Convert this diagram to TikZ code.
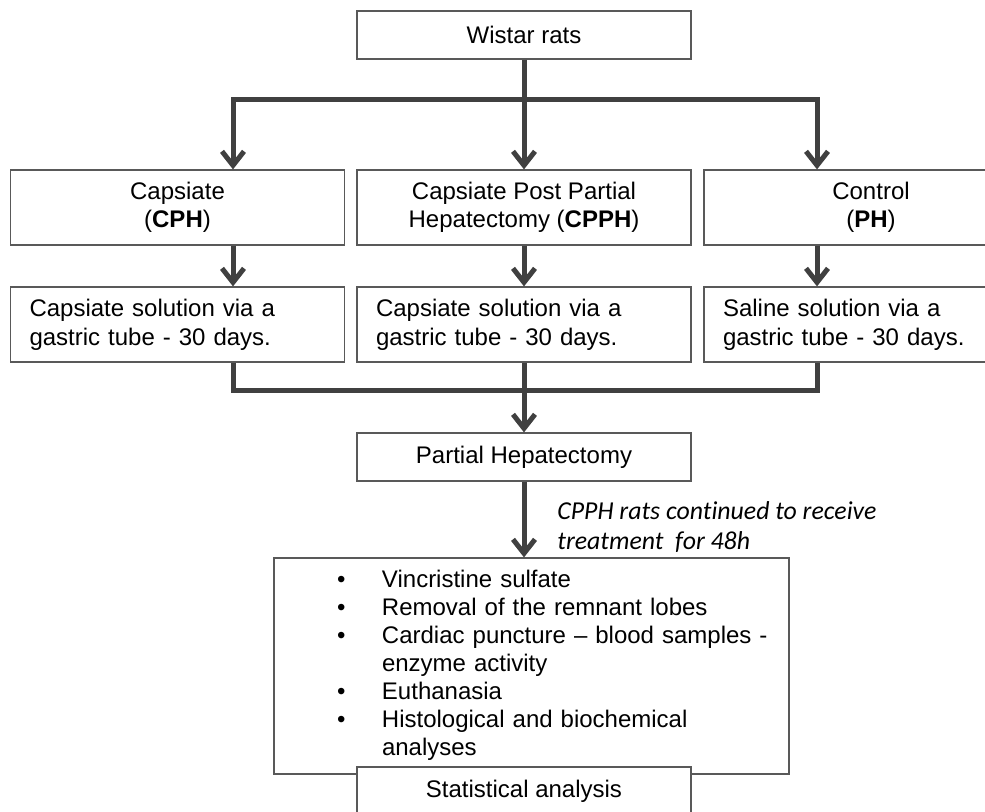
\documentclass[tikz,border=0pt]{standalone}
\usepackage{fontspec}
\setmainfont{Liberation Sans}
\newfontfamily\notefont[Ligatures=NoCommon]{Carlito}
\usetikzlibrary{arrows.meta}
\definecolor{boxgray}{RGB}{89,89,89}
\definecolor{arrowgray}{RGB}{64,64,64}
\tikzset{
  box/.style={draw=boxgray,line width=0.6pt,fill=white,minimum width=167pt,minimum height=24pt,
    align=center,inner sep=0pt,font=\fontsize{12}{14}\selectfont},
  tallbox/.style={box,minimum height=37.5pt},
  solbox/.style={box,minimum height=37.5pt,text width=148pt,inner xsep=9.5pt,align=left,
    font=\fontsize{12}{14.5}\selectfont},
  flow/.style={draw=arrowgray,line width=2.5pt,-{Straight Barb[length=7pt,width=11pt]}},
  bar/.style={draw=arrowgray,line width=2.5pt},
}
\begin{document}
\begin{tikzpicture}[x=0.5pt,y=-0.5pt]
  \useasboundingbox (0,0) rectangle (985,812);
  \clip (0,0) rectangle (985,812);
  \node [box] (rats) at (524,35) {Wistar rats};
  \node [tallbox] (cph) at (177.5,207.5) {Capsiate\\(\textbf{CPH})};
  \node [tallbox] (cpph) at (524,207.5) {Capsiate Post Partial\\Hepatectomy (\textbf{CPPH})};
  \node [tallbox] (ph) at (871,207.5) {Control\\(\textbf{PH})};
  \node [solbox] (s1) at (177.5,324.5) {Capsiate solution via a\\gastric tube - 30 days.};
  \node [solbox] (s2) at (524,324.5) {Capsiate solution via a\\gastric tube - 30 days.};
  \node [solbox] (s3) at (871,324.5) {Saline solution via a\\gastric tube - 30 days.};
  \node [box] (hep) at (524,457) {Partial Hepatectomy};
  \node [box,minimum width=257.5pt,minimum height=108pt,text width=257.5pt,align=left] (steps) at (531.5,666)
    {\hspace*{31.5pt}\begin{tabular}{@{}p{22.5pt}@{}l@{}}
      \textbullet & Vincristine sulfate\\
      \textbullet & Removal of the remnant lobes\\
      \textbullet & Cardiac puncture -- blood samples -\\
                  & enzyme activity\\
      \textbullet & Euthanasia\\
      \textbullet & Histological and biochemical\\
                  & analyses
    \end{tabular}};
  \node [box] (stat) at (524,791) {Statistical analysis};
  \node [anchor=west,inner sep=0pt,align=left,font={\fontsize{12.9}{15}\notefont\itshape}] (note) at (557,527)
    {CPPH rats continued to receive\\treatment~ for 48h};
  \coordinate (bl) at (233,100);
  \coordinate (bm) at (524,100);
  \coordinate (br) at (817,100);
  \coordinate (jl) at (233,391);
  \coordinate (jm) at (524,391);
  \coordinate (jr) at (817,391);
  \draw [bar] (rats) -- (bm);
  \draw [bar,line cap=rect] (bl) -- (br);
  \draw [flow] (bl) -- (bl |- cph.north);
  \draw [flow] (bm) -- (cpph);
  \draw [flow] (br) -- (br |- ph.north);
  \draw [flow] (cph.south -| bl) -- (bl |- s1.north);
  \draw [flow] (cpph) -- (s2);
  \draw [flow] (ph.south -| br) -- (br |- s3.north);
  \draw [bar,line join=miter] (s1.south -| bl) -- (jl) -- (jr) -- (s3.south -| br);
  \draw [bar] (s2) -- (jm);
  \draw [flow] (jm) -- (hep);
  \draw [flow] (hep) -- (hep.south |- steps.north);
\end{tikzpicture}
\end{document}
